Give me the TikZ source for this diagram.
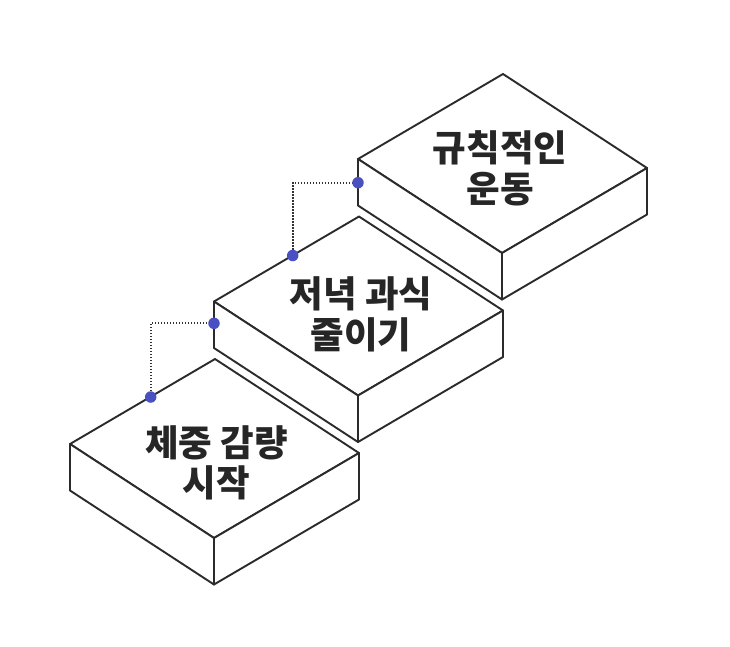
\documentclass[tikz,border=0pt]{standalone}
\usepackage{fontspec}
\newfontfamily\kr{Noto Sans CJK KR}[BoldFont={Noto Sans CJK KR Black}]
\definecolor{linec}{HTML}{2B2B2B}
\definecolor{textc}{HTML}{262626}
\definecolor{dotblue}{HTML}{4A50C2}
\definecolor{dotc}{HTML}{333333}
\begin{document}
\begin{tikzpicture}[x=1pt,y=-1pt,
  edge/.style={draw=linec, line width=1.9pt, line join=round, fill=white},
  dotnode/.style={circle, fill=dotblue, inner sep=0pt, minimum size=11.5pt},
  link/.style={draw=dotc, line width=1.8pt, dash pattern=on 1.4pt off 1.6pt},
  steplabel/.style={font=\kr\bfseries\fontsize{36.5}{40.5}\selectfont, text=textc, align=center, inner sep=0pt},
  isobox/.pic={
    \path[edge] (0,0) -- (145,-85) -- (289,9) -- (144,94) -- cycle;
    \path[edge] (0,0) -- (144,94) -- (144,140.5) -- (0,46.5) -- cycle;
    \path[edge] (144,94) -- (289,9) -- (289,55.5) -- (144,140.5) -- cycle;
  }]
\useasboundingbox (0,0) rectangle (730,646);
\fill[white] (0,0) rectangle (730,646);
% boxes, back to front
\pic at (358,159) {isobox};
\pic at (214,301.5) {isobox};
\pic at (70,444) {isobox};
% labels
\node[steplabel] (t2) at (500,168.5) {규칙적인\\운동};
\node[steplabel] (t1) at (361,314.5) {저녁 과식\\줄이기};
\node[steplabel] (t0) at (216.5,463) {체중 감량\\시작};
% dots
\coordinate (d0) at (150.7,397);
\coordinate (d1) at (214,323.3);
\coordinate (d2) at (292.7,255.5);
\coordinate (d3) at (358,182.7);
\draw[link] (d0) |- (d1);
\draw[link] (d2) |- (d3);
\node[dotnode] (n0) at (d0) {};
\node[dotnode] (n1) at (d1) {};
\node[dotnode] (n2) at (d2) {};
\node[dotnode] (n3) at (d3) {};
\end{tikzpicture}
\end{document}
